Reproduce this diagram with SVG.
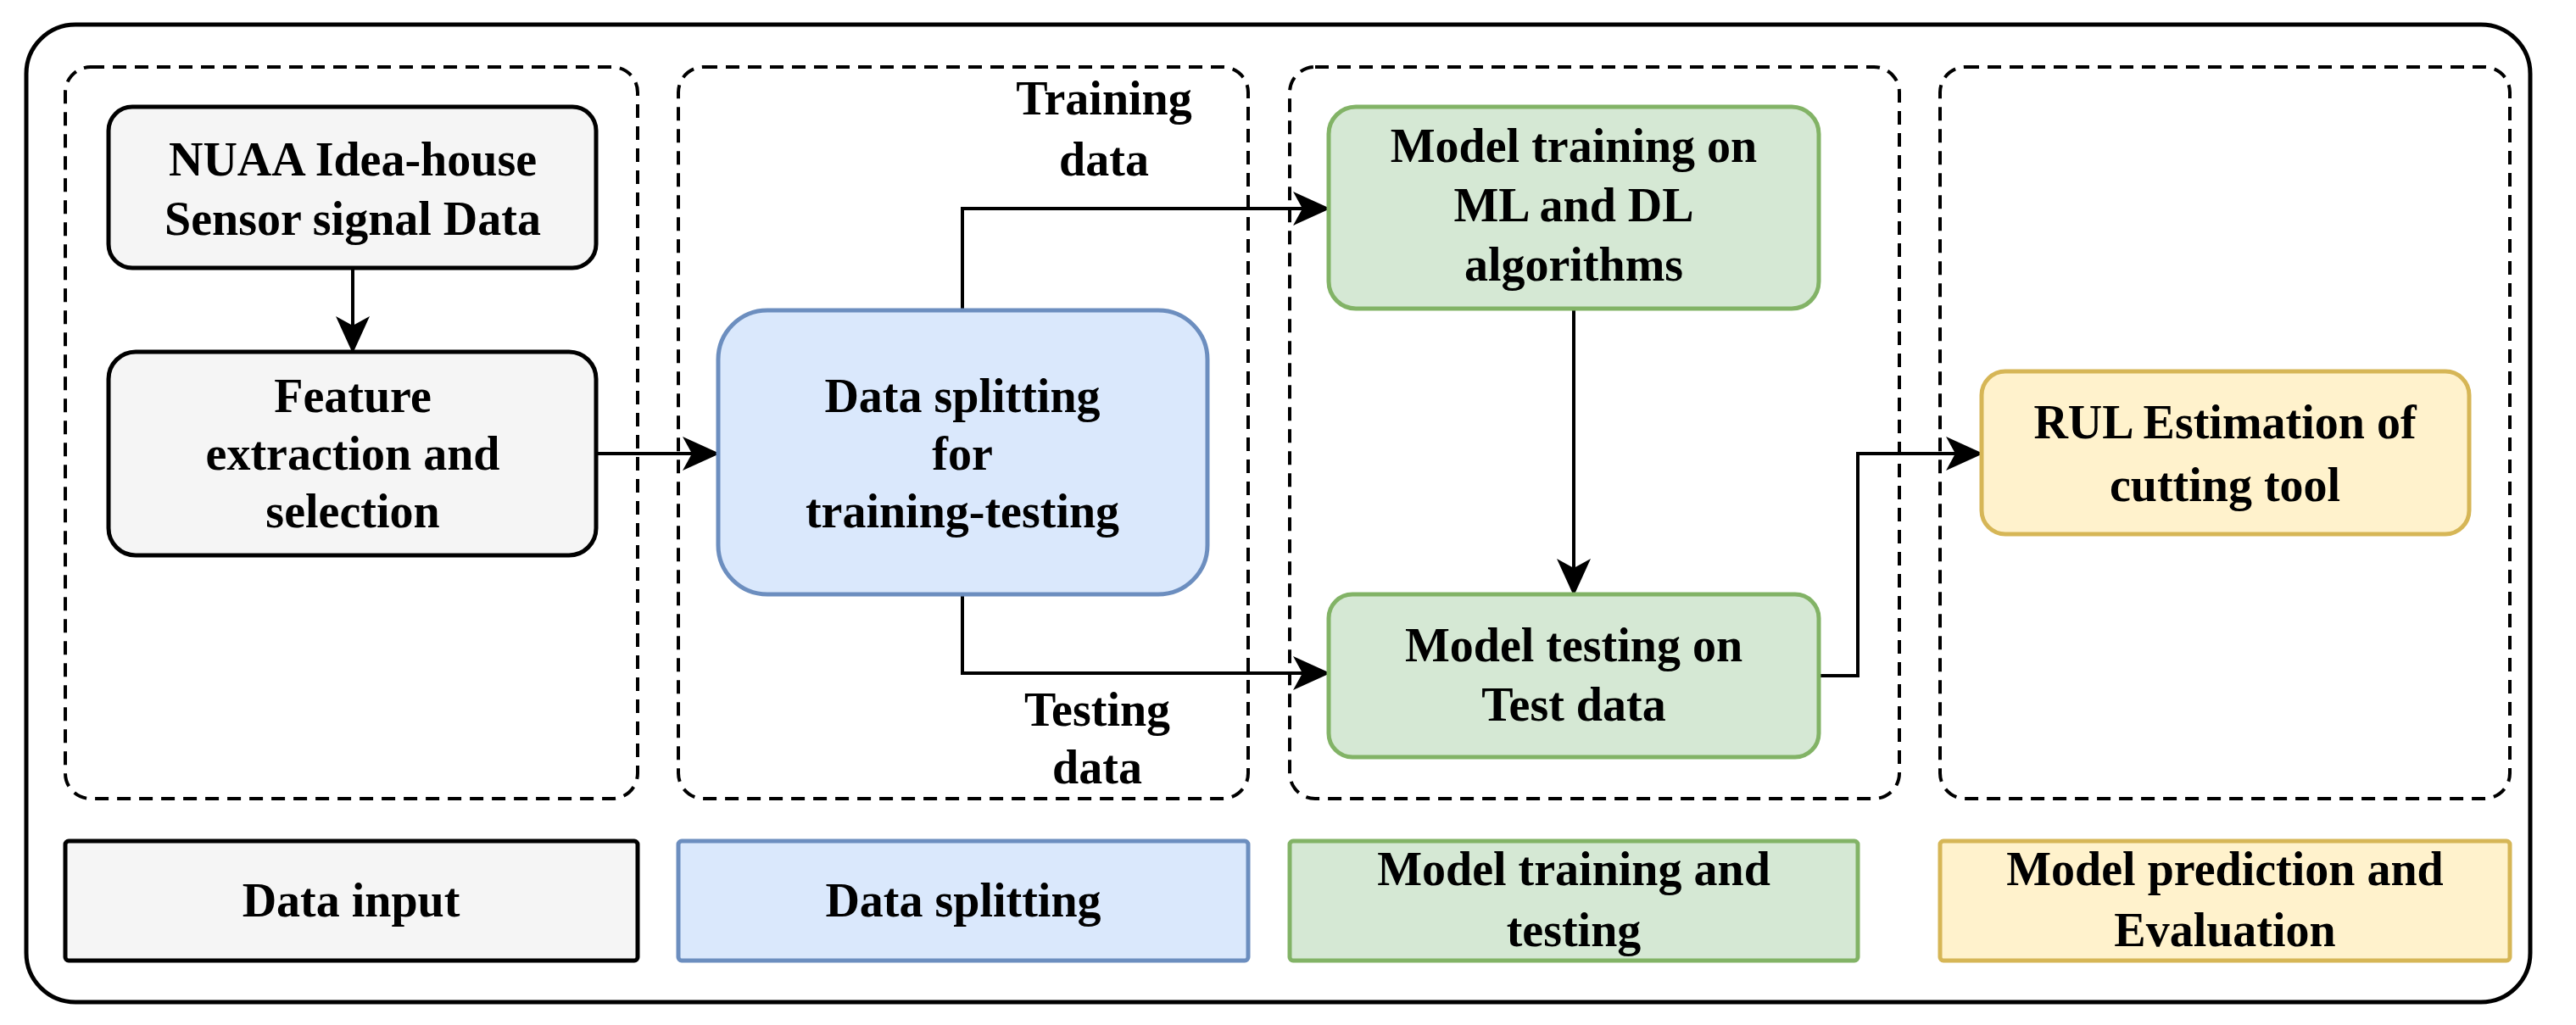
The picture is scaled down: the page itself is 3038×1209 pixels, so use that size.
<svg xmlns="http://www.w3.org/2000/svg" width="3038" height="1209" viewBox="0 0 3038 1209">
<style>
text{font-family:"Liberation Serif","DejaVu Serif",serif;font-weight:bold;font-size:56px;fill:#000;text-anchor:middle;dominant-baseline:central}
.grp{fill:none;stroke:#000;stroke-width:4;stroke-dasharray:16 10}
.g{fill:#f5f5f5;stroke:#000;stroke-width:5}
.b{fill:#dae8fc;stroke:#6c8ebf;stroke-width:5}
.gr{fill:#d5e8d4;stroke:#82b366;stroke-width:5}
.y{fill:#fff2cc;stroke:#d6b656;stroke-width:5}
.e{fill:none;stroke:#000;stroke-width:4;marker-end:url(#a)}
</style>
<defs><marker id="a" markerUnits="userSpaceOnUse" markerWidth="44" markerHeight="40" viewBox="0 0 44 40" refX="42" refY="20" orient="auto"><path d="M0 0L44 20L0 40L11 20Z" fill="#000"/></marker></defs>
<rect x="31" y="29" width="2953" height="1153" rx="58" fill="#fff" stroke="#000" stroke-width="5"/>
<g id="groups">
<rect class="grp" x="77" y="79" width="675" height="863" rx="30"/>
<rect class="grp" x="800" y="79" width="672" height="863" rx="30"/>
<rect class="grp" x="1521" y="79" width="719" height="863" rx="30"/>
<rect class="grp" x="2288" y="79" width="672" height="863" rx="30"/>
</g>
<g id="connectors">
<path class="e" d="M416 316V415"/>
<path class="e" d="M703 535H847"/>
<path class="e" d="M1135 366V246H1567"/>
<path class="e" d="M1135 701V794H1567"/>
<path class="e" d="M1856 364V701"/>
<path class="e" d="M2145 797H2191V535H2337"/>
<text x="1302" y="116">Training</text><text x="1302" y="188">data</text>
<text x="1294" y="837">Testing</text><text x="1294" y="905">data</text>
</g>
<g id="n1"><rect class="g" x="128" y="126" width="575" height="190" rx="28"/><text x="416" y="188">NUAA Idea-house</text><text x="416" y="258">Sensor signal Data</text></g>
<g id="n2"><rect class="g" x="128" y="415" width="575" height="240" rx="32"/><text x="416" y="467">Feature</text><text x="416" y="535">extraction and</text><text x="416" y="603">selection</text></g>
<g id="n3"><rect class="b" x="847" y="366" width="577" height="335" rx="58"/><text x="1135" y="467">Data splitting</text><text x="1135" y="535">for</text><text x="1135" y="603">training-testing</text></g>
<g id="n4"><rect class="gr" x="1567" y="126" width="578" height="238" rx="32"/><text x="1856" y="172">Model training on</text><text x="1856" y="242">ML and DL</text><text x="1856" y="312">algorithms</text></g>
<g id="n5"><rect class="gr" x="1567" y="701" width="578" height="192" rx="28"/><text x="1856" y="761">Model testing on</text><text x="1856" y="831">Test data</text></g>
<g id="n6"><rect class="y" x="2337" y="438" width="575" height="192" rx="28"/><text x="2624" y="498">RUL Estimation of</text><text x="2624" y="572">cutting tool</text></g>
<g id="l1"><rect class="g" x="77" y="992" width="675" height="141" rx="4"/><text x="414" y="1062">Data input</text></g>
<g id="l2"><rect class="b" x="800" y="992" width="672" height="141" rx="4"/><text x="1136" y="1062">Data splitting</text></g>
<g id="l3"><rect class="gr" x="1521" y="992" width="670" height="141" rx="4"/><text x="1856" y="1025">Model training and</text><text x="1856" y="1097">testing</text></g>
<g id="l4"><rect class="y" x="2288" y="992" width="672" height="141" rx="4"/><text x="2624" y="1025">Model prediction and</text><text x="2624" y="1097">Evaluation</text></g>
</svg>
